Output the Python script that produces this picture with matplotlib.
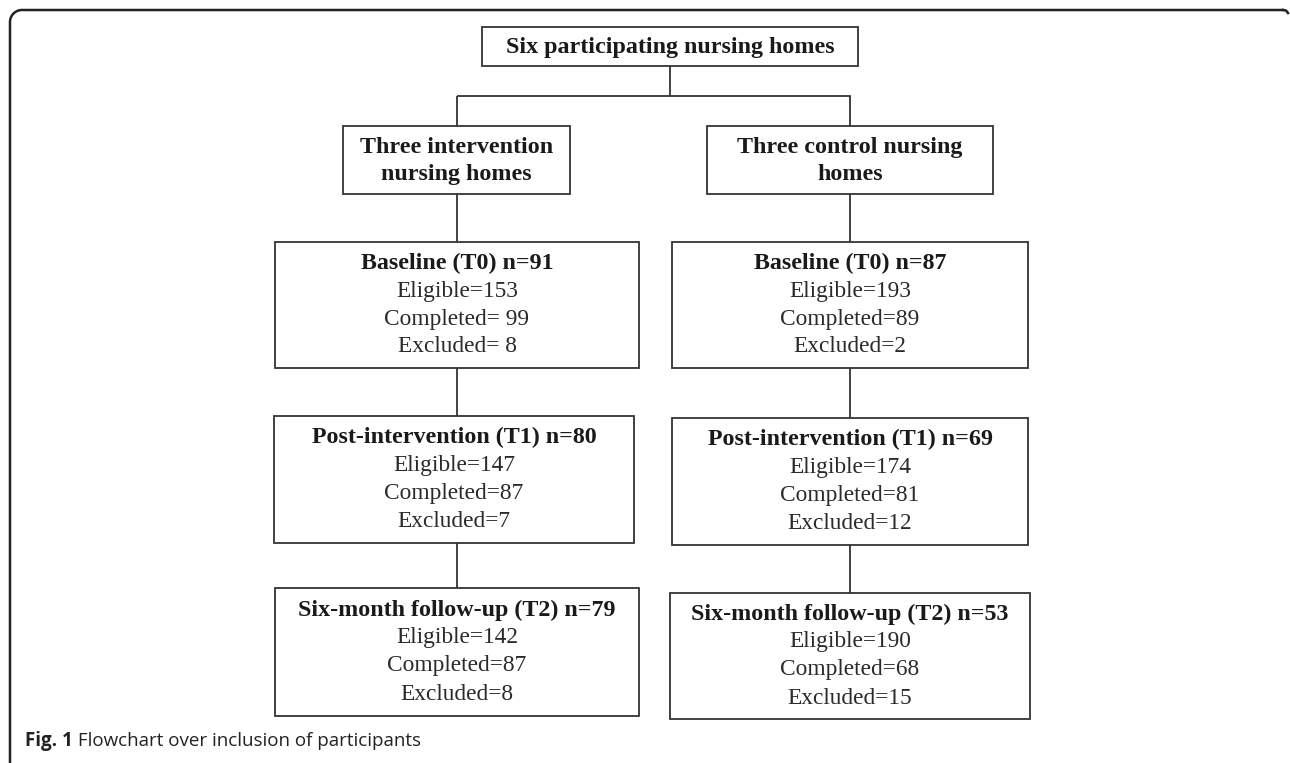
import numpy as np
import matplotlib.pyplot as plt
from matplotlib.patches import Rectangle

# text content of the flowchart
top_label = 'Six participating nursing homes'
arm_labels = ['Three intervention\nnursing homes', 'Three control nursing\nhomes']
stage_titles = [
    ['Baseline (T0) n=91', 'Post-intervention (T1) n=80', 'Six-month follow-up (T2) n=79'],
    ['Baseline (T0) n=87', 'Post-intervention (T1) n=69', 'Six-month follow-up (T2) n=53'],
]
eligible = [[153, 147, 142], [193, 174, 190]]
completed = [[' 99', '87', '87'], ['89', '81', '68']]
excluded = [[' 8', '7', '8'], ['2', '12', '15']]
caption_bold = 'Fig. 1'
caption_text = ' Flowchart over inclusion of participants'

W, H = 1290, 763
fig = plt.figure(figsize=(W / 100, H / 100), dpi=100)
ax = fig.add_axes([0, 0, 1, 1])
ax.set_xlim(0, W)
ax.set_ylim(H, 0)
ax.axis('off')

lc = '#333333'
tc = '#1a1a1a'
serif = ['Liberation Serif', 'DejaVu Serif']

def box(x0, y0, x1, y1):
    ax.add_patch(Rectangle((x0, y0), x1 - x0, y1 - y0, fill=False, ec=lc, lw=1.3))

def vline(x, y0, y1):
    ax.plot([x, x], [y0, y1], color=lc, lw=1.3, solid_capstyle='butt')

# outer frame with rounded top-left corner, open at bottom
r = 12
t = np.linspace(np.pi, 1.5 * np.pi, 20)
fx = np.concatenate([[10, 10], 10 + r + r * np.cos(t), [1283]])
fy = np.concatenate([[H, 10 + r], 10 + r + r * np.sin(t), [10]])
ax.plot(fx, fy, color='#222222', lw=1.8)
ax.plot([1283, 1286, 1288], [10, 10.5, 13], color='#222222', lw=1.8)

# top box
box(482, 27, 858, 66)
ax.text(670, 47, top_label, ha='center', va='center', fontsize=17.3, fontweight='bold',
        family=serif, color=tc)
vline(670, 66, 96)
ax.plot([458, 850], [96, 96], color=lc, lw=1.3)

# layout for the two arms
arm_cx = [457, 850]
arm_box = [(343, 126, 570, 194), (707, 126, 993, 194)]
stage_boxes = [
    [(275, 242, 639, 368), (274, 416, 634, 543), (275, 588, 639, 716)],
    [(672, 242, 1028, 368), (672, 418, 1028, 545), (670, 593, 1030, 719)],
]

for a in range(2):
    cx = arm_cx[a]
    vline(cx, 96, 126)
    bx = arm_box[a]
    box(*bx)
    ax.text((bx[0] + bx[2]) / 2, (bx[1] + bx[3]) / 2 + 1, arm_labels[a], ha='center', va='center',
            fontsize=17.3, fontweight='bold', family=serif, color=tc, linespacing=1.4)
    prev_bottom = bx[3]
    for s in range(3):
        x0, y0, x1, y1 = stage_boxes[a][s]
        vline(cx, prev_bottom, y0)
        box(x0, y0, x1, y1)
        mx = (x0 + x1) / 2
        my = (y0 + y1) / 2
        sp = 28
        ax.text(mx, my - 1.5 * sp, stage_titles[a][s], ha='center', va='center',
                fontsize=17.3, fontweight='bold', family=serif, color=tc)
        lines = ['Eligible=%d' % eligible[a][s], 'Completed=' + completed[a][s],
                 'Excluded=' + excluded[a][s]]
        for k, txt in enumerate(lines):
            ax.text(mx, my + (k - 0.5) * sp, txt, ha='center', va='center',
                    fontsize=16.8, family=serif, color='#2a2a2a')
        prev_bottom = y1

# caption
sans = ['Open Sans', 'DejaVu Sans']
t1 = ax.text(25, 741, caption_bold, ha='left', va='center', fontsize=13.5,
             fontweight='bold', family=sans, color='#222222')
fig.canvas.draw()
bb = t1.get_window_extent()
ax.text(25 + bb.width, 741, caption_text, ha='left', va='center', fontsize=13.5,
        family=sans, color='#222222')

fig.savefig('out.png', dpi=100)
